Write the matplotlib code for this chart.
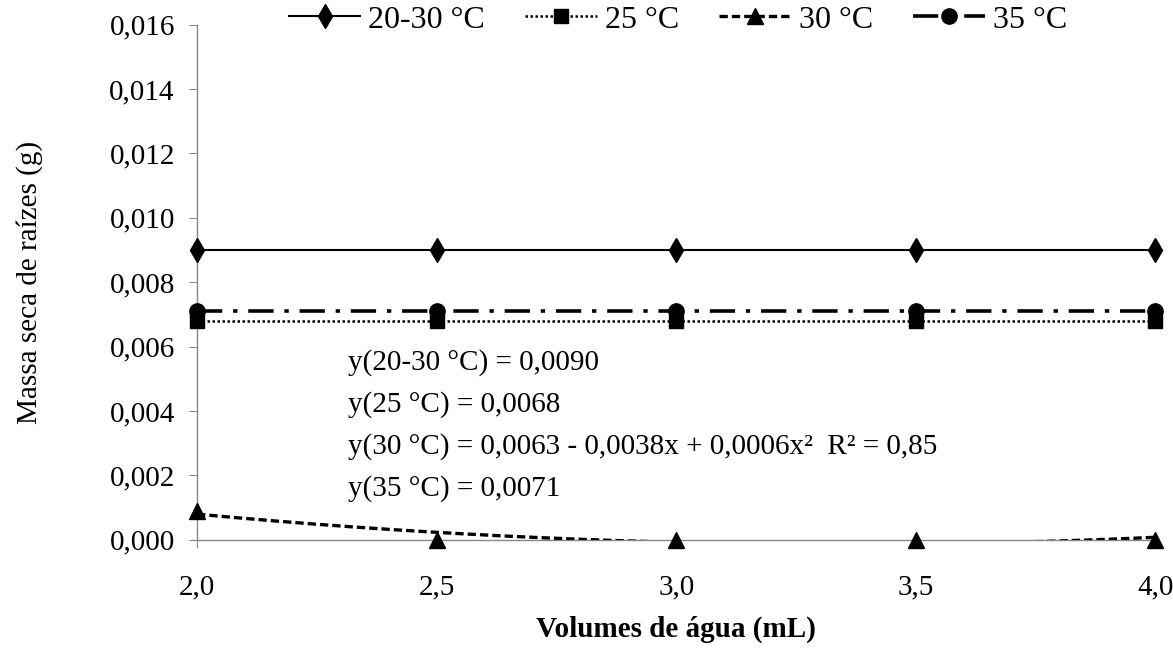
import numpy as np
import matplotlib
matplotlib.use("Agg")
import matplotlib.pyplot as plt
from matplotlib.lines import Line2D
from matplotlib.ticker import FuncFormatter

plt.rcParams['font.family'] = ['Liberation Serif', 'DejaVu Serif']

# data
volumes = [2.0, 2.5, 3.0, 3.5, 4.0]
t20_30 = [0.0090, 0.0090, 0.0090, 0.0090, 0.0090]
t25 = [0.0068, 0.0068, 0.0068, 0.0068, 0.0068]
t30 = [0.0009, 0.0, 0.0, 0.0, 0.0]
t35 = [0.0071, 0.0071, 0.0071, 0.0071, 0.0071]
labels = ["20-30 °C", "25 °C", "30 °C", "35 °C"]
equations = [
    "y(20-30 °C) = 0,0090",
    "y(25 °C) = 0,0068",
    "y(30 °C) = 0,0063 - 0,0038x + 0,0006x²  R² = 0,85",
    "y(35 °C) = 0,0071",
]

fig = plt.figure(figsize=(11.73, 6.48), dpi=100)
ax = fig.add_axes([0.168, 0.167, 0.817, 0.795])

x = np.array(volumes)
xs = np.linspace(2.0, 4.0, 200)

# trend lines
ax.plot(x, t20_30, color='black', lw=1.5, zorder=3)
ax.plot(x, t25, color='black', lw=1.8, ls=(0, (1, 1)), zorder=3)
ax.plot(x, t35, color='black', lw=2.6, ls=(0, (7, 3, 1.2, 3)), zorder=3)
coef = np.polyfit(x, t30, 2)
ax.plot(xs, np.polyval(coef, xs), color='black', lw=2.4, ls=(0, (2.5, 1.2)), zorder=3)

# markers
ax.plot(x, t20_30, 'd', color='black', ms=12, clip_on=False, zorder=5)
ax.plot(x, t25, 's', color='black', ms=10, clip_on=False, zorder=5)
ax.plot(x, t35, 'o', color='black', ms=11, clip_on=False, zorder=4)
ax.plot(x, t30, '^', color='black', ms=11, clip_on=False, zorder=5)

ax.set_xlim(2.0, 4.0)
ax.set_ylim(0, 0.016)
ax.set_xticks(volumes)
ax.set_yticks(np.arange(0, 0.0161, 0.002))
ax.xaxis.set_major_formatter(FuncFormatter(lambda v, p: f"{v:.1f}".replace('.', ',')))
ax.yaxis.set_major_formatter(FuncFormatter(lambda v, p: f"{v:.3f}".replace('.', ',')))
for s in ['top', 'right']:
    ax.spines[s].set_visible(False)
for s in ['left', 'bottom']:
    ax.spines[s].set_color('#888888')
    ax.spines[s].set_linewidth(1.0)
ax.tick_params(axis='both', colors='#888888', labelcolor='black', labelsize=21,
               length=6, direction='out')
ax.tick_params(axis='x', pad=19)
ax.tick_params(axis='y', pad=10)

ax.set_xlabel("Volumes de água (mL)", fontsize=21, fontweight='bold', labelpad=11)
ax.set_ylabel("Massa seca de raízes (g)", fontsize=21, labelpad=48)

for i, eq in enumerate(equations):
    fig.text(348 / 1173, 1 - (363 + 42 * i) / 648, eq, fontsize=21, va='center', ha='left')

handles = [
    Line2D([], [], color='black', lw=1.5, marker='d', ms=12),
    Line2D([], [], color='black', lw=1.8, ls=(0, (1, 1)), marker='s', ms=10),
    Line2D([], [], color='black', lw=2.4, ls=(0, (2.5, 1.2)), marker='^', ms=11),
    Line2D([], [], color='black', lw=2.6, ls=(0, (7, 3, 1.2, 3)), marker='o', ms=11),
]
fig.legend(handles, labels, loc='center', bbox_to_anchor=(678 / 1173, 1 - 20 / 648),
           ncol=4, frameon=False, fontsize=23, handlelength=2.25, columnspacing=1.25,
           handletextpad=0.25)

fig.savefig("out.png", dpi=100)
